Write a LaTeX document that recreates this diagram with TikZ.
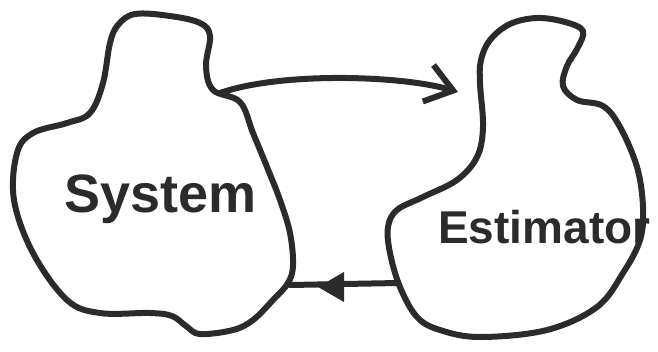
\documentclass[tikz,border=0pt]{standalone}
\usepackage{fontspec}
\setmainfont{Liberation Sans}
\usetikzlibrary{arrows.meta}
\definecolor{ink}{HTML}{2B2B2B}
\tikzset{
  blob/.style={draw=ink,line width=6pt,line cap=round,line join=round},
  conn/.style={draw=ink,line width=6pt,line cap=round},
  label/.style={text=ink,inner sep=0pt,anchor=base west},
}
\begin{document}
\begin{tikzpicture}[x=1pt,y=-1pt]
\useasboundingbox (0,0) rectangle (658,351);
% left blob (System)
\draw[blob] plot[smooth cycle,tension=0.6] coordinates {
 (118,25) (135,14) (170,16) (200,23) (210,36) (206,66) (213,90) (240,102)
 (253,133) (267,167) (280,200) (290,233) (293,265) (288,283) (273,300)
 (253,320) (233,330) (200,334) (186,326) (172,316) (150,313) (100,313)
 (67,300) (33,253) (14,200) (17,153) (33,133) (67,123) (90,113) (103,83) (110,43)};
% right blob (Estimator)
\draw[blob] plot[smooth cycle,tension=0.6] coordinates {
 (537,18) (565,22) (583,31) (577,49) (567,66) (563,86) (577,100) (603,106)
 (620,127) (637,167) (643,207) (640,240) (623,273) (597,307) (547,330)
 (480,337) (440,330) (417,317) (400,287) (390,253) (388,227) (397,210)
 (423,197) (457,180) (477,157) (483,127) (480,83) (481,60) (490,40) (510,24)};
% junction coordinates
\coordinate (j1) at (220,93);
\coordinate (tip) at (458,92);
\coordinate (j2) at (290,285);
\coordinate (j3) at (398,283);
\coordinate (head) at (318,287);
% texts
\node[label,font=\bfseries\fontsize{54}{54}\selectfont] (system) at (64,212) {System};
\node[label,font=\bfseries\fontsize{46}{46}\selectfont] (estimator) at (438,243) {Estimator};
% connectors
\draw[conn,-{Straight Barb[length=26pt,width=38pt,line width=6pt]}]
  (j1) .. controls (280,72) and (400,75) .. (tip);
\draw[conn] (j3) -- (j2);
\fill[ink] (head) -- ++(26,-15) -- ++(0,30) -- cycle;
\end{tikzpicture}
\end{document}
